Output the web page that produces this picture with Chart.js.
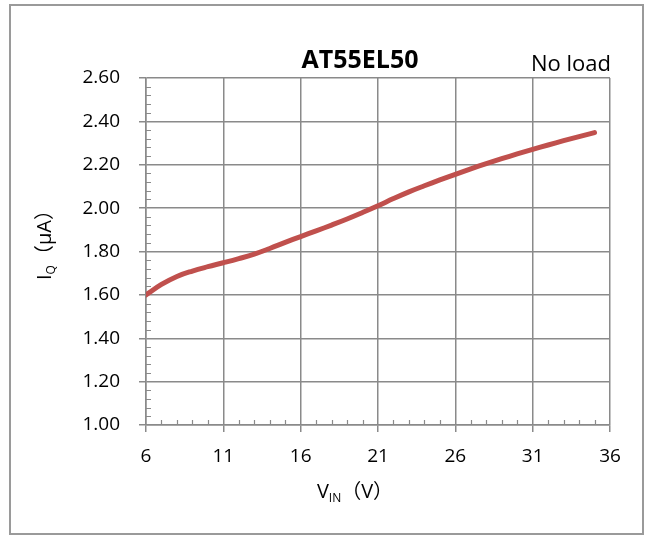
<!DOCTYPE html>
<html>
<head>
<meta charset="utf-8">
<script src="https://cdn.jsdelivr.net/npm/chart.js@4/dist/chart.umd.min.js"></script>
<style>
  html, body { margin: 0; padding: 0; background: #fff; }
  #wrap { width: 654px; height: 536px; position: relative; }
</style>
</head>
<body>
<div id="wrap"><canvas id="c"></canvas></div>
<script>
// ---- data ----
const vin = [6, 7, 8, 9, 10, 11, 12, 13, 14, 15, 16, 17, 18, 19, 20, 21, 22, 23, 24, 25, 26, 27, 28, 29, 30, 31, 32, 33, 34, 35];
const iq  = [1.600, 1.648, 1.685, 1.710, 1.730, 1.748, 1.767, 1.788, 1.814, 1.842, 1.869, 1.895, 1.922, 1.950, 1.980, 2.011, 2.044, 2.075, 2.103, 2.130, 2.156, 2.181, 2.205, 2.228, 2.250, 2.271, 2.291, 2.311, 2.330, 2.348];
const xTicks = [6, 11, 16, 21, 26, 31, 36];
const yTicks = [1.00, 1.20, 1.40, 1.60, 1.80, 2.00, 2.20, 2.40, 2.60];
const chartTitle = "AT55EL50";
const noteText = "No load";

const FONT = "'Open Sans', 'Noto Sans CJK SC', sans-serif";
const GRID = '#8a8a8a';

const points = vin.map((v, i) => ({ x: v, y: iq[i] }));

const decor = {
  id: 'decor',
  beforeDraw(chart) {
    const ctx = chart.ctx;
    ctx.save();
    ctx.strokeStyle = '#9a9a9a';
    ctx.lineWidth = 2;
    ctx.strokeRect(10, 5, 633, 529);
    ctx.restore();
  },
  afterDraw(chart) {
    const ctx = chart.ctx;
    const xs = chart.scales.x, ys = chart.scales.y;
    ctx.save();
    // minor ticks
    ctx.strokeStyle = GRID;
    ctx.lineWidth = 1.2;
    ctx.beginPath();
    for (let v = xs.min; v <= xs.max + 1e-9; v += 1) {
      if (xTicks.includes(v)) continue;
      const px = Math.round(xs.getPixelForValue(v)) + 0.5;
      ctx.moveTo(px, ys.bottom);
      ctx.lineTo(px, ys.bottom - 5);
    }
    for (let k = 0; k <= 40; k++) {
      const v = ys.min + k * 0.04;
      if (k % 5 === 0) continue;
      const py = Math.round(ys.getPixelForValue(v)) + 0.5;
      ctx.moveTo(xs.left, py);
      ctx.lineTo(xs.left + 5, py);
    }
    ctx.stroke();

    ctx.fillStyle = '#000';
    // title
    ctx.font = "bold 25px " + FONT;
    ctx.textAlign = 'center';
    ctx.textBaseline = 'alphabetic';
    ctx.fillText(chartTitle, 360, 68);
    // note
    ctx.font = "22px " + FONT;
    ctx.textAlign = 'right';
    ctx.fillText(noteText, 611, 71);

    // x axis title: V_IN（V）
    const main = "20px " + FONT, sub = "12px " + FONT;
    ctx.textAlign = 'left';
    const partsX = [["V", main, 0], ["IN", sub, 4], ["（V）", main, 0]];
    let w = 0;
    partsX.forEach(p => { ctx.font = p[1]; w += ctx.measureText(p[0]).width; });
    let x = 355 - w / 2;
    partsX.forEach(p => { ctx.font = p[1]; ctx.fillText(p[0], x, 498 + p[2]); x += ctx.measureText(p[0]).width; });

    // y axis title: I_Q（μA）
    ctx.translate(51, 240);
    ctx.rotate(-Math.PI / 2);
    const partsY = [["I", main, 0], ["Q", sub, 4], ["（μA）", main, 0]];
    w = 0;
    partsY.forEach(p => { ctx.font = p[1]; w += ctx.measureText(p[0]).width; });
    x = -w / 2;
    partsY.forEach(p => { ctx.font = p[1]; ctx.fillText(p[0], x, 0 + p[2]); x += ctx.measureText(p[0]).width; });
    ctx.restore();
  }
};

new Chart(document.getElementById('c'), {
  type: 'line',
  data: {
    datasets: [{
      data: points,
      borderColor: '#C0504D',
      borderWidth: 5,
      borderCapStyle: 'round',
      borderJoinStyle: 'round',
      pointRadius: 0,
      tension: 0.4,
      fill: false
    }]
  },
  options: {
    responsive: true,
    maintainAspectRatio: false,
    animation: false,
    layout: { padding: { top: 78, right: 44, left: 0, bottom: 0 } },
    plugins: { legend: { display: false }, tooltip: { enabled: false }, title: { display: false } },
    scales: {
      x: {
        type: 'linear',
        min: 6, max: 36,
        afterBuildTicks(s) { s.ticks = xTicks.map(v => ({ value: v })); },
        afterFit(s) { s.height = 111; },
        ticks: { color: '#000', font: { family: FONT, size: 19 }, padding: 13, maxRotation: 0, autoSkip: false },
        grid: { color: GRID, lineWidth: 1.5, tickLength: 7, drawTicks: true },
        border: { display: true, color: GRID, width: 1.5 }
      },
      y: {
        type: 'linear',
        min: 1.0, max: 2.6,
        afterBuildTicks(s) { s.ticks = yTicks.map(v => ({ value: v })); },
        afterFit(s) { s.width = 146; },
        ticks: { color: '#000', font: { family: FONT, size: 19 }, padding: 19, autoSkip: false,
                 callback: v => Number(v).toFixed(2) },
        grid: { color: GRID, lineWidth: 1.5, tickLength: 7, drawTicks: true },
        border: { display: true, color: GRID, width: 1.5 }
      }
    }
  },
  plugins: [decor]
});
</script>
</body>
</html>
